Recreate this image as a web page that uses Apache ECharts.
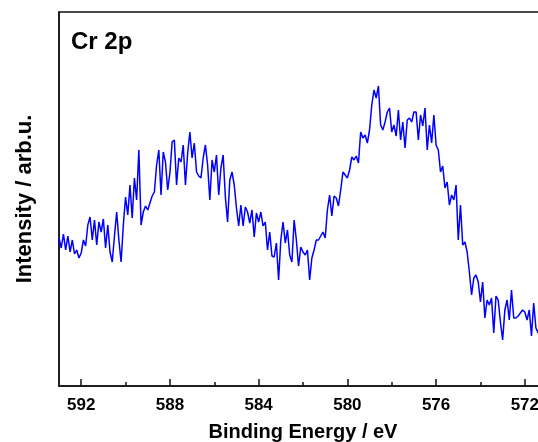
<!DOCTYPE html>
<html>
<head>
<meta charset="utf-8">
<script src="https://cdn.jsdelivr.net/npm/echarts@6/dist/echarts.min.js"></script>
<style>
  html, body { margin: 0; padding: 0; background: #fff; }
  #chart { width: 538px; height: 442px; }
</style>
</head>
<body>
<div id="chart"></div>
<script>
// Cr 2p spectrum, 593.0 eV down to 571.0 eV in 0.1 eV steps
var energyStart = 593.0;
var energyStep = 0.1;

var intensity = [
  148, 138, 152, 136, 150, 134, 146, 132, 136, 128,
  133, 146, 140, 161, 169, 146, 166, 141, 164, 154,
  167, 138, 161, 134, 124, 150, 174, 146, 124, 161,
  189, 171, 201, 168, 208, 186, 236, 161, 174, 180,
  176, 183, 190, 194, 221, 236, 191, 234, 224, 196,
  213, 244, 246, 201, 228, 224, 241, 201, 233, 254,
  228, 243, 214, 210, 208, 228, 241, 221, 186, 226,
  214, 231, 191, 218, 231, 189, 164, 206, 214, 201,
  178, 160, 181, 160, 179, 174, 163, 176, 149, 173,
  164, 174, 160, 164, 136, 154, 130, 129, 143, 106,
  146, 164, 143, 156, 131, 124, 166, 146, 120, 139,
  134, 131, 136, 106, 128, 136, 146, 146, 150, 154,
  148, 176, 191, 170, 190, 188, 180, 196, 214, 211,
  208, 216, 229, 226, 230, 223, 254, 248, 251, 243,
  256, 281, 296, 288, 300, 261, 256, 264, 274, 278,
  254, 261, 250, 276, 246, 264, 238, 266, 268, 264,
  274, 274, 246, 271, 260, 278, 236, 261, 243, 271,
  241, 236, 214, 220, 198, 204, 181, 191, 186, 201,
  146, 181, 141, 144, 134, 114, 91, 108, 111, 104,
  84, 104, 68, 86, 81, 88, 53, 90, 86, 64,
  46, 76, 86, 66, 96, 68, 68, 70, 73, 76,
  74, 66, 76, 50, 83, 58, 53, 66, 61, 71,
  64
];

var majorTicks = [592, 588, 584, 580, 576, 572];
var minorTicks = [590, 586, 582, 578, 574];

var points = [];
for (var i = 0; i < intensity.length; i++) {
  var e = Math.round((energyStart - i * energyStep) * 10) / 10;
  points.push([e, intensity[i]]);
}

var font = "'Liberation Sans', Arial, sans-serif";

var chart = echarts.init(document.getElementById('chart'), null, { renderer: 'canvas' });
chart.setOption({
  animation: false,
  backgroundColor: '#fff',
  title: {
    text: 'Cr 2p',
    left: 66,
    top: 25,
    textStyle: { fontFamily: font, fontSize: 24, fontWeight: 'bold', color: '#000' }
  },
  grid: {
    left: 59, top: 12, height: 374, width: 488,
    outerBoundsMode: 'none',
    containLabel: false,
    show: true, borderColor: '#111', borderWidth: 1.5, backgroundColor: 'transparent'
  },
  xAxis: [
    {
      type: 'value',
      inverse: true,
      min: 571,
      max: 593,
      name: 'Binding Energy / eV',
      nameLocation: 'middle',
      nameGap: 36,
      nameTextStyle: { fontFamily: font, fontSize: 20, fontWeight: 'bold', color: '#000' },
      axisLine: { show: true, lineStyle: { color: '#111', width: 1.5 } },
      axisTick: {
        show: true, inside: true, length: 7, customValues: majorTicks,
        lineStyle: { color: '#111', width: 1.5 }
      },
      axisLabel: {
        customValues: majorTicks, margin: 11,
        fontFamily: font, fontSize: 17, fontWeight: 'bold', color: '#000'
      },
      splitLine: { show: false }
    },
    {
      type: 'value',
      inverse: true,
      min: 571,
      max: 593,
      position: 'bottom',
      axisLine: { show: false },
      axisTick: {
        show: true, inside: true, length: 4, customValues: minorTicks,
        lineStyle: { color: '#111', width: 1.5 }
      },
      axisLabel: { show: false },
      splitLine: { show: false }
    }
  ],
  yAxis: {
    type: 'value',
    min: 0,
    max: 374,
    name: 'Intensity / arb.u.',
    nameLocation: 'middle',
    nameGap: 23,
    nameTextStyle: { fontFamily: font, fontSize: 22, fontWeight: 'bold', color: '#000' },
    axisLine: { show: true, lineStyle: { color: '#111', width: 1.5 } },
    axisTick: { show: false },
    axisLabel: { show: false },
    splitLine: { show: false }
  },
  series: [
    {
      type: 'line',
      xAxisIndex: 0,
      data: points,
      showSymbol: false,
      lineStyle: { color: '#0000ff', width: 1.5 },
      itemStyle: { color: '#0000ff' }
    }
  ]
});
</script>
</body>
</html>
